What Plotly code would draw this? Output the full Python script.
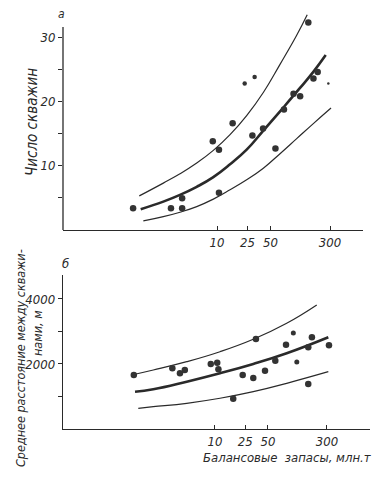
import plotly.graph_objects as go

# ---------- panel a: number of wells vs reserves ----------
a_x = [0.8, 2.5, 3.5, 3.5, 8.8, 10.6, 10.6, 16, 29, 40, 58, 75, 100, 122, 156, 182, 207]
a_y = [3.4, 3.4, 4.95, 3.4, 13.8, 12.5, 5.8, 16.6, 14.7, 15.8, 12.7, 18.75, 21.2, 20.8, 32.3, 23.6, 24.6]
a_small_x = [23, 31]
a_small_y = [22.8, 23.8]
a_tiny_x = [285]
a_tiny_y = [22.8]

a_up_x = [0.964, 1.986, 3.28, 5.43, 8.95, 14.8, 24.4, 40.3, 66.6, 110, 151]
a_up_y = [5.31, 7.30, 8.75, 10.42, 12.39, 14.84, 17.81, 21.4, 25.78, 30.31, 33.5]
a_mid_x = [1.006, 1.986, 3.28, 5.43, 8.95, 14.8, 24.4, 40.3, 73.6, 121.6, 181.5, 263.6]
a_mid_y = [3.23, 4.42, 5.47, 6.72, 8.23, 10.23, 12.5, 15.47, 19.06, 22.11, 24.61, 27.23]
a_lo_x = [1.089, 1.986, 3.28, 5.43, 8.95, 14.8, 24.4, 40.3, 66.6, 110, 181.5, 309]
a_lo_y = [1.41, 2.08, 2.77, 3.64, 4.80, 6.25, 7.81, 9.61, 11.88, 14.22, 16.56, 18.98]

# ---------- panel b: mean well spacing vs reserves ----------
b_x = [0.85, 2.74, 3.45, 4.0, 8.8, 10.7, 11.1, 17.4, 23.2, 32, 34.7, 45.7, 62.5, 86.5, 170, 170, 190, 319]
b_y = [1662, 1867, 1713, 1815, 2000, 2040, 1836, 932, 1662, 1569, 2769, 1795, 2102, 2594, 2514, 1385, 2821, 2575]
b_small_x = [108, 120]
b_small_y = [2954, 2062]

b_up_x = [0.796, 1.535, 4.24, 11.64, 32.0, 88.3, 220]
b_up_y = [1662, 1815, 2071, 2378, 2760, 3252, 3815]
b_mid_x = [0.881, 1.535, 4.24, 11.64, 32.0, 88.3, 312.8]
b_mid_y = [1148, 1222, 1455, 1714, 2000, 2329, 2822]
b_lo_x = [0.973, 1.535, 4.24, 11.64, 32.0, 88.3, 312.8]
b_lo_y = [637, 686, 791, 945, 1148, 1406, 1763]

x_tickvals = [10, 25, 50, 300]
x_ticktext = ["10", "25", "50", "300"]
a_ytickvals = [5, 10, 15, 20, 25, 30]
a_yticktext = ["", "10", "", "20", "", "30"]
b_ytickvals = [1000, 2000, 3000, 4000]
b_yticktext = ["", "2000", "", "4000"]

INK = "#2a2a2a"
FONT = "DejaVu Sans Condensed, DejaVu Sans, sans-serif"
W, H = 386, 479

fig = go.Figure()

def curve(x, y, xa, ya, width):
    fig.add_trace(go.Scatter(x=x, y=y, mode="lines",
                             line=dict(color=INK, width=width, shape="spline", smoothing=1.3),
                             xaxis=xa, yaxis=ya, showlegend=False, hoverinfo="skip"))

def dots(x, y, xa, ya, size):
    fig.add_trace(go.Scatter(x=x, y=y, mode="markers",
                             marker=dict(color="#333333", size=size, line=dict(width=0)),
                             xaxis=xa, yaxis=ya, showlegend=False))

curve(a_up_x, a_up_y, "x", "y", 1.2)
curve(a_mid_x, a_mid_y, "x", "y", 2.6)
curve(a_lo_x, a_lo_y, "x", "y", 1.2)
dots(a_x, a_y, "x", "y", 6.5)
dots(a_small_x, a_small_y, "x", "y", 4.5)
dots(a_tiny_x, a_tiny_y, "x", "y", 2.5)

curve(b_up_x, b_up_y, "x2", "y2", 1.2)
curve(b_mid_x, b_mid_y, "x2", "y2", 2.6)
curve(b_lo_x, b_lo_y, "x2", "y2", 1.2)
dots(b_x, b_y, "x2", "y2", 6.5)
dots(b_small_x, b_small_y, "x2", "y2", 5)

tickfont = dict(family=FONT, size=13, color=INK, style="italic")

a_xdom = [63 / W, 363 / W]
a_ydom = [1 - 230 / H, 1 - 9 / H]
b_xdom = [63 / W, 370 / W]
b_ydom = [1 - 429 / H, 1 - 275 / H]

fig.update_layout(
    width=W, height=H, margin=dict(l=0, r=0, t=0, b=0),
    paper_bgcolor="white", plot_bgcolor="white",
    xaxis=dict(type="log", domain=a_xdom, range=[-1.013, 2.908], anchor="y",
               tickvals=x_tickvals, ticktext=x_ticktext, ticks="inside", ticklen=4, tickcolor=INK,
               showline=True, linecolor=INK, linewidth=1.3, showgrid=False, zeroline=False, tickfont=tickfont),
    yaxis=dict(domain=a_ydom, range=[0, 34.4], anchor="x",
               tickvals=a_ytickvals, ticktext=a_yticktext, ticks="outside", ticklen=4, tickcolor=INK,
               showline=False, showgrid=False, zeroline=False, tickfont=tickfont),
    xaxis2=dict(type="log", domain=b_xdom, range=[-1.005, 3.045], anchor="y2",
                tickvals=x_tickvals, ticktext=x_ticktext, ticks="inside", ticklen=4, tickcolor=INK,
                showline=True, linecolor=INK, linewidth=1.3, showgrid=False, zeroline=False, tickfont=tickfont),
    yaxis2=dict(domain=b_ydom, range=[0, 4738], anchor="x2",
                tickvals=b_ytickvals, ticktext=b_yticktext, ticks="outside", ticklen=4, tickcolor=INK,
                showline=True, linecolor=INK, linewidth=1.3, showgrid=False, zeroline=False, tickfont=tickfont),
)

# y-axis line of panel a (stops below the top of the upper curve)
fig.add_shape(type="line", xref="paper", yref="y", x0=a_xdom[0], x1=a_xdom[0], y0=0, y1=31.6,
              line=dict(color=INK, width=1.3))

def note(text, x, y, size, angle=0, xanchor="center"):
    fig.add_annotation(text=text, xref="paper", yref="paper", x=x / W, y=1 - y / H, showarrow=False,
                       textangle=angle, xanchor=xanchor, yanchor="middle",
                       font=dict(family=FONT, size=size, color=INK, style="italic"))

note("а", 61, 14, 12)
note("б", 65, 263, 13)
note("Число скважин", 32, 122, 15, angle=-90)
note("Среднее расстояние между скважи-", 20, 358, 12.5, angle=-90)
note("нами, м", 37, 333, 12.5, angle=-90)
note("Балансовые  запасы, млн.т", 287, 457, 13)

fig.write_html("out.html", config={"displayModeBar": False, "staticPlot": True},
               post_script="document.body.style.margin='0';document.body.style.overflow='hidden';")
